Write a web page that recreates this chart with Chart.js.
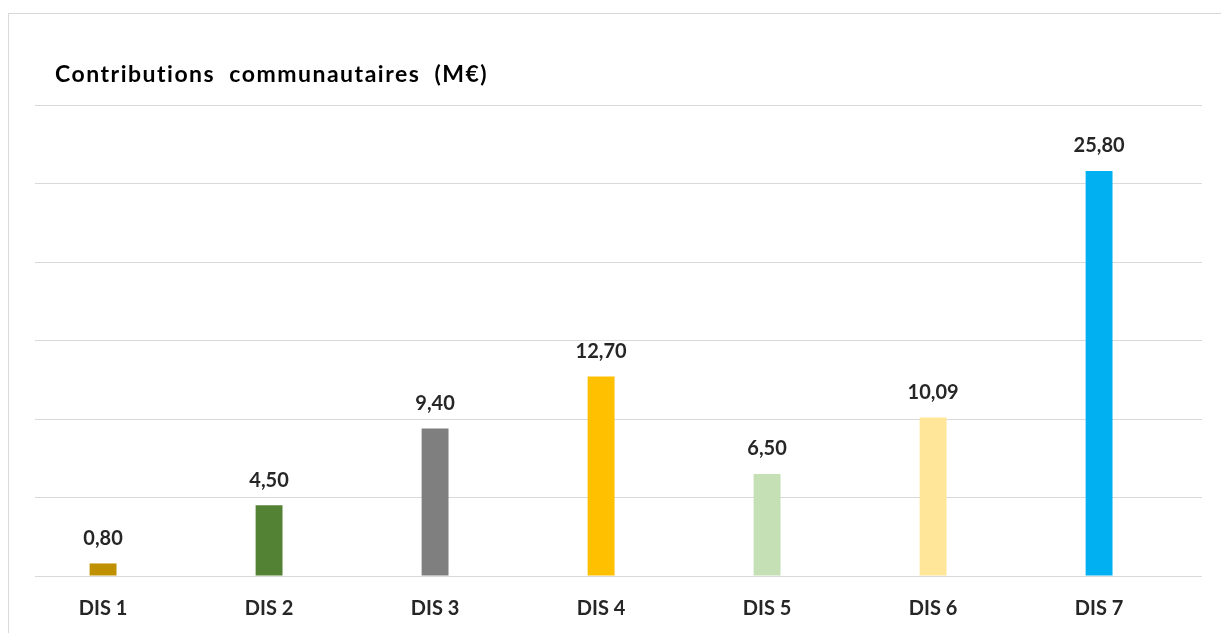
<!DOCTYPE html>
<html>
<head>
<meta charset="utf-8">
<script src="https://cdn.jsdelivr.net/npm/chart.js@4"></script>
<style>
    html, body { margin: 0; padding: 0; background: #fff; overflow: hidden; width: 1221px; height: 633px; }
    #frame { position: absolute; left: 8px; top: 13px; width: 1300px; height: 700px; border: 1px solid #d9d9d9; }
    #wrap { position: absolute; left: 0; top: 0; width: 1221px; height: 642px; }
</style>
</head>
<body>
<div id="frame"></div>
<div id="wrap"><canvas id="chart"></canvas></div>
<script>
const title = 'Contributions  communautaires  (M\u20ac)';
const categories = ['DIS 1', 'DIS 2', 'DIS 3', 'DIS 4', 'DIS 5', 'DIS 6', 'DIS 7'];
const values = [0.80, 4.50, 9.40, 12.70, 6.50, 10.09, 25.80];
const barColors = ['#BF9000', '#548235', '#7F7F7F', '#FFC000', '#C5E0B4', '#FFE699', '#00B0F0'];

const fontFamily = 'Lato, "Open Sans", sans-serif';
const textColor = '#262626';

// value labels above each bar, french decimal comma
const valueLabels = {
    id: 'valueLabels',
    afterDatasetsDraw: (chart) => {
        const ctx = chart.ctx;
        const meta = chart.getDatasetMeta(0);
        ctx.save();
        ctx.font = `bold 20px ${fontFamily}`;
        ctx.fillStyle = textColor;
        ctx.textAlign = 'center';
        ctx.textBaseline = 'middle';
        meta.data.forEach((bar, i) => {
            ctx.fillText(values[i].toFixed(2).replace('.', ','), bar.x, bar.y - 25);
        });
        ctx.restore();
    }
};

// title sits a bit right of the plot area's left edge
const chartTitle = {
    id: 'chartTitle',
    afterDraw: (chart) => {
        const ctx = chart.ctx;
        ctx.save();
        ctx.font = `bold 23px ${fontFamily}`;
        ctx.letterSpacing = '1.5px';
        ctx.fillStyle = '#000';
        ctx.textAlign = 'left';
        ctx.textBaseline = 'middle';
        ctx.fillText(title, chart.chartArea.left + 20, 75);
        ctx.restore();
    }
};

new Chart('chart', {
    type: 'bar',
    data: {
        datasets: [{
            data: values.map((v, i) => ({ x: i, y: v })),
            backgroundColor: barColors,
            barPercentage: 1,
            categoryPercentage: 0.162,
        }],
    },
    options: {
        responsive: true,
        maintainAspectRatio: false,
        animation: false,
        layout: {
            padding: { left: 35, right: 19, top: 105, bottom: 0 },
        },
        scales: {
            x: {
                type: 'linear',
                offset: false,
                // categories are not centred in the gridline span in the original
                min: -0.41,
                max: 6.62,
                grid: { display: false, drawTicks: false },
                border: { display: false },
                ticks: {
                    stepSize: 1,
                    includeBounds: false,
                    autoSkip: false,
                    maxRotation: 0,
                    padding: 21,
                    color: textColor,
                    font: { family: fontFamily, size: 20, weight: 'bold' },
                    callback: (v) => categories[v] ?? '',
                },
            },
            y: {
                min: 0,
                max: 30,
                ticks: { display: false, stepSize: 5 },
                grid: { color: '#d9d9d9', drawTicks: false, lineWidth: 1 },
                border: { display: false },
            },
        },
        plugins: {
            legend: { display: false },
            tooltip: { enabled: false },
        },
    },
    plugins: [valueLabels, chartTitle],
});
</script>
</body>
</html>
